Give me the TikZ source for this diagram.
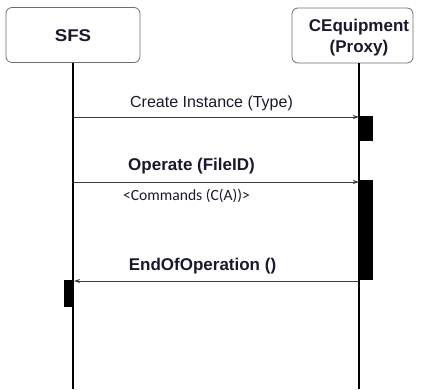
\documentclass[tikz,border=0pt]{standalone}
\usepackage{fontspec}
\setmainfont{Liberation Sans}
\newfontfamily\cmdfont{Carlito}
\usetikzlibrary{arrows.meta}
\definecolor{txt}{RGB}{25,25,45}
\definecolor{boxline}{RGB}{110,110,110}
\tikzset{
  actor/.style={draw=boxline,line width=0.8pt,rounded corners=6pt,fill=white,inner sep=0pt},
  lifeline/.style={line width=2pt,black},
  act/.style={fill=black,draw=none,inner sep=0pt},
  msg/.style={line width=0.8pt,draw={rgb,255:red,60;green,60;blue,60},-{Stealth[length=6pt,width=4pt]}},
  lbl/.style={text=txt,inner sep=0pt,font=\fontsize{16}{18}\selectfont},
  blbl/.style={text=txt,inner sep=0pt,font=\fontsize{17}{21}\selectfont\bfseries},
}
\begin{document}
\begin{tikzpicture}[x=1pt,y=-1pt]
\useasboundingbox (0,0) rectangle (422,389);
% actors
\node[actor,minimum width=134pt,minimum height=55pt] (sfs) at (73,35) {};
\node[blbl,xscale=1.1] (sfsT) at (73,35.5) {SFS};
\node[actor,minimum width=121pt,minimum height=55pt] (ceq) at (352.5,35.5) {};
\node[blbl,align=center] (ceqT) at (359,38) {CEquipment\\(Proxy)};
% lifelines
\coordinate (sfsEnd) at (73,389);
\coordinate (ceqTop) at (359,63);
\coordinate (ceqEnd) at (359,389);
\draw[lifeline] (sfs.south -| sfsEnd) -- (sfsEnd);
\draw[lifeline] (ceqTop) -- (ceqEnd);
% activations
\node[act,minimum width=13pt,minimum height=25pt] (a1) at (366.5,128) {};
\node[act,minimum width=13pt,minimum height=100pt] (a2) at (366.5,230) {};
\node[act,minimum width=10pt,minimum height=27pt] (a3) at (69,293.5) {};
% messages
\coordinate (s1) at (74,117);
\coordinate (e1) at (359,117);
\draw[msg] (s1) -- (e1);
\node[lbl] (l1) at (211.5,103) {Create Instance (Type)};
\coordinate (s2) at (74,182);
\coordinate (e2) at (359,182);
\draw[msg] (s2) -- (e2);
\node[blbl] (l2) at (191.5,166) {Operate (FileID)};
\node[text=txt,inner sep=0pt,font=\cmdfont\fontsize{15.6}{18}\selectfont] (l2b) at (186.5,196) {<Commands (C(A))>};
\coordinate (s3) at (359,281);
\coordinate (e3) at (74,281);
\draw[msg] (s3) -- (e3);
\node[blbl] (l3) at (202.5,266) {EndOfOperation ()};
\end{tikzpicture}
\end{document}
